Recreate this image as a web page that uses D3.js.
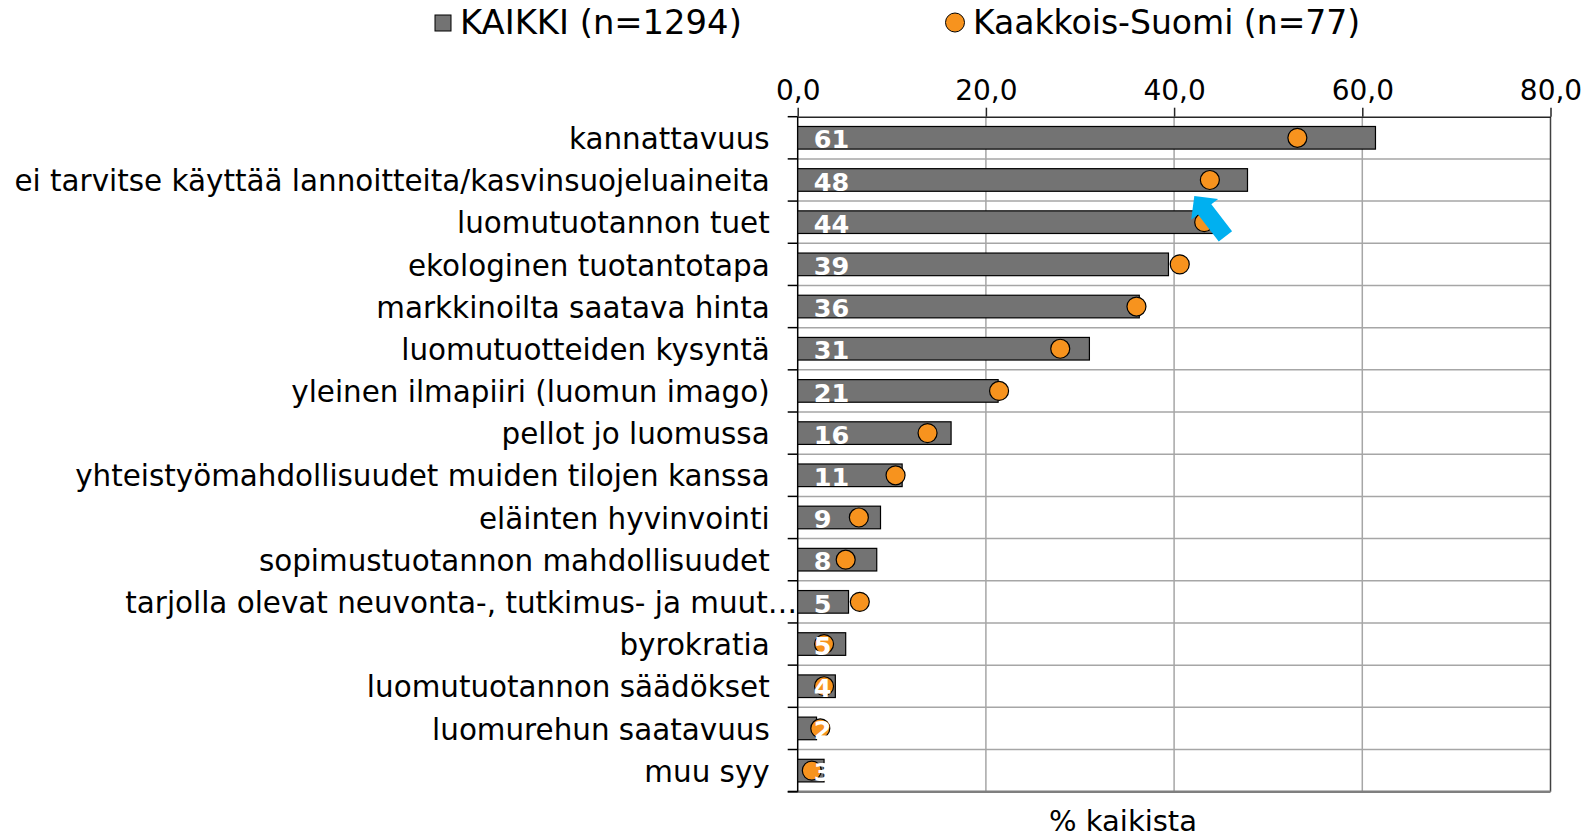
<!DOCTYPE html>
<html>
<head>
<meta charset="utf-8">
<script src="https://cdn.jsdelivr.net/npm/d3@7"></script>
<style>
  html, body { margin: 0; padding: 0; background: #ffffff; }
  svg { display: block; font-family: "DejaVu Sans", Verdana, sans-serif; }
</style>
</head>
<body>
<svg id="chart" width="1593" height="838"></svg>
<script>
// ---- data ----
const categories = [
  "kannattavuus",
  "ei tarvitse käyttää lannoitteita/kasvinsuojeluaineita",
  "luomutuotannon tuet",
  "ekologinen tuotantotapa",
  "markkinoilta saatava hinta",
  "luomutuotteiden kysyntä",
  "yleinen ilmapiiri (luomun imago)",
  "pellot jo luomussa",
  "yhteistyömahdollisuudet muiden tilojen kanssa",
  "eläinten hyvinvointi",
  "sopimustuotannon mahdollisuudet",
  "tarjolla olevat neuvonta-, tutkimus- ja muut…",
  "byrokratia",
  "luomutuotannon säädökset",
  "luomurehun saatavuus",
  "muu syy"
];
const kaikki = [61.4, 47.8, 44.1, 39.4, 36.3, 31.0, 21.3, 16.3, 11.1, 8.8, 8.4, 5.4, 5.1, 4.0, 2.0, 2.8];
const kaakkois = [53.1, 43.8, 43.2, 40.6, 36.0, 27.9, 21.4, 13.8, 10.4, 6.5, 5.1, 6.6, 2.8, 2.8, 2.4, 1.5];
const tickValues = [0, 20, 40, 60, 80];
const seriesNames = ["KAIKKI (n=1294)", "Kaakkois-Suomi (n=77)"];
const axisTitle = "% kaikista";

// ---- layout ----
const svg = d3.select("#chart");
const pLeft = 797.7, pRight = 1550.5, pTop = 116.7, pBottom = 791.7;
const barColor = "#737373", dotColor = "#F7931E";
const FONT = "DejaVu Sans, Verdana, sans-serif";

const x = d3.scaleLinear().domain([0, 80]).range([pLeft, pRight]);
const y = d3.scaleBand().domain(categories).range([pTop, pBottom])
  .paddingInner(0.464).paddingOuter(0.232);
const gap = y.step() - y.bandwidth();

// horizontal gridlines between categories
const bounds = categories.map(c => y(c) - gap / 2).concat([pBottom]);
svg.append("g").selectAll("line").data(bounds.slice(1, -1)).join("line")
  .attr("x1", pLeft).attr("x2", pRight)
  .attr("y1", d => d).attr("y2", d => d)
  .attr("stroke", "#a6a6a6").attr("stroke-width", 1.5);

// vertical gridlines
svg.append("g").selectAll("line").data(tickValues.slice(1, -1)).join("line")
  .attr("x1", d => x(d)).attr("x2", d => x(d))
  .attr("y1", pTop).attr("y2", pBottom)
  .attr("stroke", "#a6a6a6").attr("stroke-width", 1.5);

// right border and bottom line
svg.append("line").attr("x1", x(80)).attr("x2", x(80)).attr("y1", pTop).attr("y2", pBottom)
  .attr("stroke", "#404040").attr("stroke-width", 1.5);
svg.append("line").attr("x1", pLeft - 10).attr("x2", pRight).attr("y1", pBottom).attr("y2", pBottom)
  .attr("stroke", "#7f7f7f").attr("stroke-width", 2.5);

// top axis
const fmt = d => d3.format(".1f")(d).replace(".", ",");
const xAxis = svg.append("g").attr("transform", `translate(0,${pTop})`)
  .call(d3.axisTop(x).tickValues(tickValues).tickFormat(fmt).tickSize(9).tickSizeOuter(0).tickPadding(8));
xAxis.select(".domain").attr("stroke", "#262626").attr("stroke-width", 1.5);
xAxis.selectAll(".tick line").attr("stroke", "#262626").attr("stroke-width", 1.5);
xAxis.selectAll(".tick text").attr("font-size", "28px").attr("fill", "#000")
  .attr("font-family", FONT);

// left category ticks (between categories)
svg.append("g").selectAll("line").data(bounds).join("line")
  .attr("x1", pLeft - 10).attr("x2", pLeft)
  .attr("y1", d => d).attr("y2", d => d)
  .attr("stroke", "#000").attr("stroke-width", 1.5);
svg.append("line").attr("x1", pLeft).attr("x2", pLeft).attr("y1", pTop).attr("y2", pBottom)
  .attr("stroke", "#000").attr("stroke-width", 1.5);

// category labels
const catSize = "29.4px";
const yAxis = svg.append("g").attr("transform", `translate(${pLeft},0)`)
  .call(d3.axisLeft(y).tickSize(0).tickPadding(28));
yAxis.select(".domain").remove();
yAxis.selectAll(".tick text").attr("font-size", catSize).attr("fill", "#000")
  .attr("font-family", FONT).attr("dy", "0.38em");
yAxis.selectAll(".tick text").each(function(d) {
  if (d.endsWith("…")) {
    d3.select(this).text(d.slice(0, -1)).attr("x", -30);
    d3.select(this.parentNode).append("text")
      .attr("x", -30).attr("dy", "0.38em").attr("text-anchor", "start")
      .attr("font-size", catSize).attr("fill", "#000")
      .attr("font-family", FONT)
      .text("…");
  }
});

// bars
svg.append("g").selectAll("rect").data(categories).join("rect")
  .attr("x", x(0)).attr("y", d => y(d))
  .attr("width", (d, i) => x(kaikki[i]) - x(0))
  .attr("height", y.bandwidth())
  .attr("fill", barColor).attr("stroke", "#000").attr("stroke-width", 1.2);

// dots
svg.append("g").selectAll("circle").data(categories).join("circle")
  .attr("cx", (d, i) => x(kaakkois[i]))
  .attr("cy", d => y(d) + y.bandwidth() / 2)
  .attr("r", 9.5)
  .attr("fill", dotColor).attr("stroke", "#000").attr("stroke-width", 1.2);

// data labels
svg.append("g").selectAll("text").data(categories).join("text")
  .attr("x", x(0) + 16)
  .attr("y", d => y(d) + y.bandwidth() / 2 + 1.5)
  .attr("dy", "0.36em")
  .attr("font-size", "25.5px").attr("font-weight", "bold").attr("fill", "#fff")
  .attr("font-family", FONT)
  .text((d, i) => Math.round(kaikki[i]));

// annotation arrow
svg.append("polygon")
  .attr("points", "0,0 17,-17 17,-8.4 51,-8.4 51,8.4 17,8.4 17,17")
  .attr("transform", "translate(1194.3,196) rotate(52.4)")
  .attr("fill", "#00B0F0");

// legend
const lg = svg.append("g").attr("font-family", FONT);
lg.append("rect").attr("x", 435).attr("y", 15).attr("width", 16).attr("height", 16)
  .attr("fill", barColor).attr("stroke", "#000").attr("stroke-width", 1);
lg.append("text").attr("x", 460).attr("y", 34).attr("font-size", "33.8px").attr("fill", "#000")
  .text(seriesNames[0]);
lg.append("circle").attr("cx", 955).attr("cy", 22.5).attr("r", 9.5)
  .attr("fill", dotColor).attr("stroke", "#000").attr("stroke-width", 1);
lg.append("text").attr("x", 973).attr("y", 34).attr("font-size", "33px").attr("fill", "#000")
  .text(seriesNames[1]);

// axis title
svg.append("text").attr("x", 1123).attr("y", 831).attr("text-anchor", "middle")
  .attr("font-family", FONT)
  .attr("font-size", "29px").attr("fill", "#000").text(axisTitle);
</script>
</body>
</html>
